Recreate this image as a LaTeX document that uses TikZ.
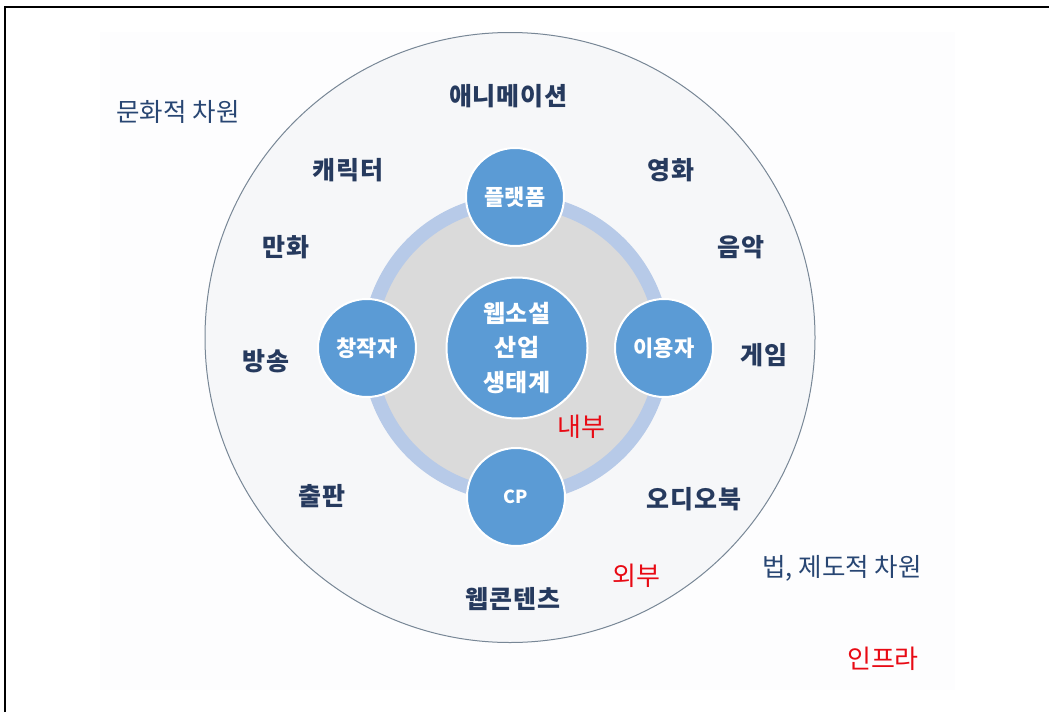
\documentclass[tikz,border=0pt]{standalone}
\usepackage{fontspec}
\newfontfamily\kr{Noto Sans CJK KR}
\definecolor{txtblue}{RGB}{38,58,94}
\definecolor{dimblue}{RGB}{40,70,115}
\definecolor{redtxt}{RGB}{232,10,20}
\definecolor{nodeblue}{RGB}{91,155,213}
\definecolor{ringblue}{RGB}{183,202,232}
\definecolor{innergray}{RGB}{218,218,218}
\definecolor{outerfill}{RGB}{246,247,249}
\definecolor{outerline}{RGB}{120,135,150}
\definecolor{bgfill}{RGB}{253,253,254}
\tikzset{
  lbl/.style={font=\kr\bfseries\fontsize{25}{28}\selectfont\addfontfeature{LetterSpace=3}, text=txtblue, inner sep=0},
  dimlbl/.style={font=\kr\fontsize{25.5}{28}\selectfont, text=dimblue, inner sep=0},
  redlbl/.style={font=\kr\fontsize{26}{28}\selectfont, text=redtxt, inner sep=0},
  actor/.style={circle, fill=nodeblue, draw=white, line width=2pt, minimum size=98pt, inner sep=0,
    text=white, font=\kr\bfseries\fontsize{22}{26}\selectfont},
  core/.style={circle, fill=nodeblue, draw=white, line width=2pt, minimum size=141pt, inner sep=0,
    text=white, align=center, font=\kr\bfseries\fontsize{24}{34.5}\selectfont}
}
\begin{document}
\begin{tikzpicture}[x=1pt,y=-1pt]
\useasboundingbox (0,0) rectangle (1049,712);
% frame (top and left)
\draw[line width=2pt] (4.5,712) -- (4.5,6.5) -- (1049,6.5);
% faint background panel
\fill[bgfill] (100,32) rectangle (955,690);
% outer circle
\draw[fill=outerfill, draw=outerline, line width=1pt] (510,337.5) circle (305);
% inner gray disk and ring
\fill[innergray] (516,348) circle (141);
\draw[ringblue, line width=14pt] (516,348) circle (147);
% actor circles
\node[actor] (plat) at (515,197) {플랫폼};
\node[actor] (crea) at (367,348) {창작자};
\node[actor] (user) at (664,348) {이용자};
\node[actor, font=\kr\bfseries\fontsize{18}{20}\selectfont] (cp) at (516,497) {CP};
\node[core] (eco) at (517,348) {웹소설\\산업\\생태계};
% outer labels
\node[lbl] (ani) at (508,96) {애니메이션};
\node[lbl] (chr) at (348,170) {캐릭터};
\node[lbl] (mov) at (671,170) {영화};
\node[lbl] (com) at (286,247) {만화};
\node[lbl] (mus) at (741,247) {음악};
\node[lbl] (bro) at (266,361) {방송};
\node[lbl] (gam) at (764,355) {게임};
\node[lbl] (pub) at (322,496) {출판};
\node[lbl] (aud) at (694,499) {오디오북};
\node[lbl] (web) at (513,599) {웹콘텐츠};
% red labels
\node[redlbl] (inn) at (581,427) {내부};
\node[redlbl] (out) at (636,576) {외부};
\node[redlbl] (inf) at (883,659) {인프라};
% dimension labels
\node[dimlbl] (cul) at (178,112) {문화적 차원};
\node[dimlbl] (law) at (842,568) {법, 제도적 차원};
\end{tikzpicture}
\end{document}
